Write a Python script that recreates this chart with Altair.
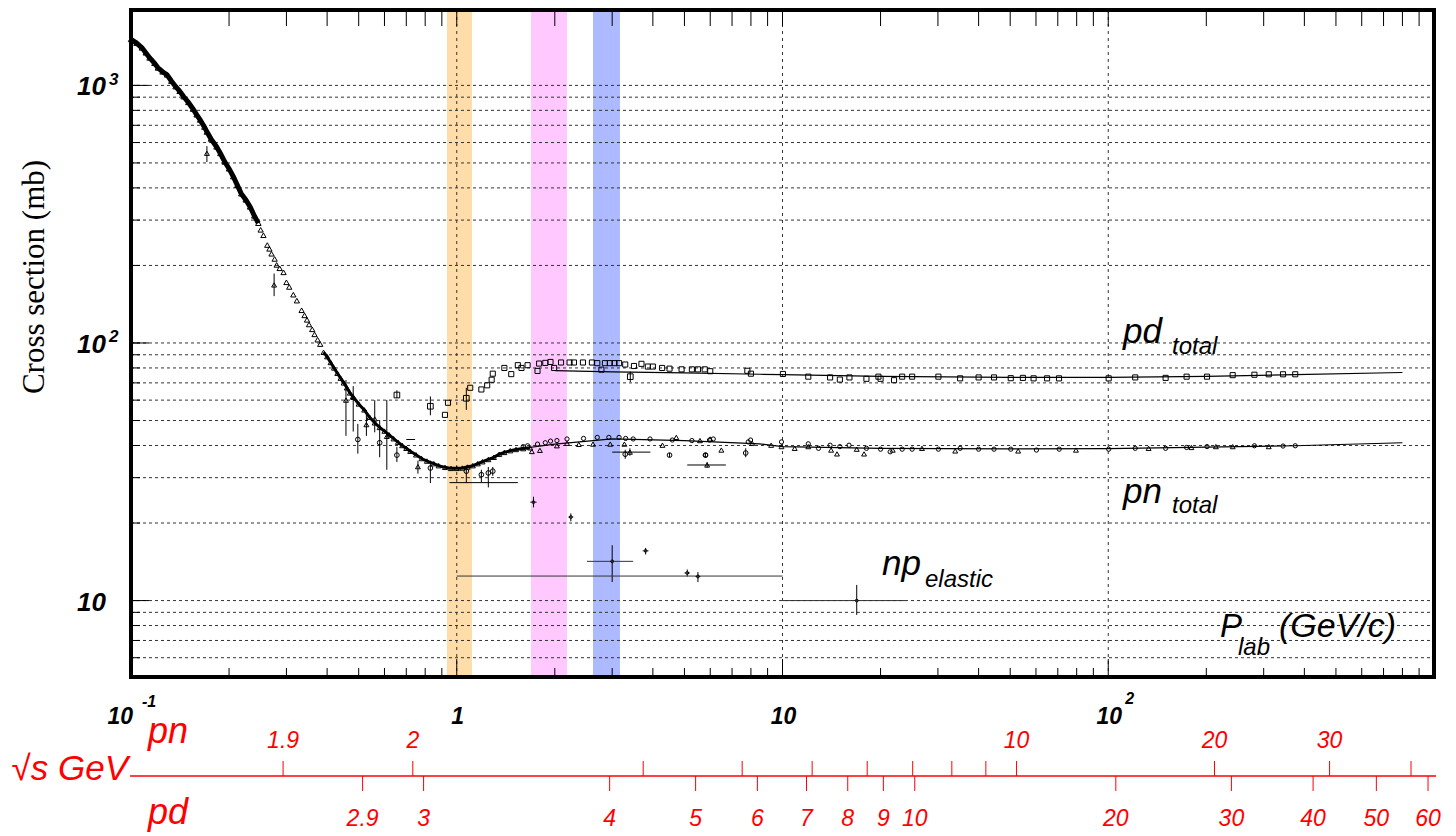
import altair as alt
import pandas as pd

W, H = 1303, 667
SANS = "Liberation Sans"
SERIF = "Liberation Serif"
RED = "#FF0000"

# ---------------- data (P_lab in GeV/c, cross section in mb) ----------------
# pn total: dense low-energy data (0.1 - 0.25 GeV/c)
pnA_p = [0.100, 0.104, 0.108, 0.111, 0.114, 0.118, 0.121, 0.125, 0.129, 0.133, 0.137,
         0.141, 0.145, 0.150, 0.155, 0.159, 0.163, 0.168, 0.171, 0.176, 0.183, 0.188,
         0.194, 0.200, 0.206, 0.212, 0.218, 0.225, 0.232, 0.239, 0.246]
pnA_s = [1510, 1460, 1400, 1340, 1280, 1220, 1170, 1130, 1100, 1040, 990,
         950, 905, 860, 810, 770, 735, 690, 660, 620, 578, 545,
         505, 475, 443, 410, 380, 360, 338, 312, 292]
# pn total: 0.25 - 0.38 GeV/c
pnB_p = [0.250, 0.255, 0.262, 0.266, 0.270, 0.276, 0.280, 0.286, 0.294, 0.300, 0.306,
         0.315, 0.323, 0.334, 0.341, 0.347, 0.352, 0.360, 0.366, 0.374, 0.381]
pnB_s = [275, 262, 240, 232, 222, 212, 201, 195, 188, 172, 165,
         154, 146, 134, 128, 123, 118, 113, 108, 103, 99]
# pn total: dense data 0.39 - 1.7 GeV/c
pnC_p = [0.39, 0.40, 0.41, 0.42, 0.43, 0.44, 0.45, 0.46, 0.47, 0.48, 0.50, 0.52, 0.54,
         0.56, 0.58, 0.60, 0.62, 0.64, 0.66, 0.68, 0.70, 0.72, 0.75, 0.78, 0.81, 0.85,
         0.88, 0.92, 0.96, 1.00, 1.04, 1.08, 1.12, 1.16, 1.20, 1.25, 1.30, 1.35, 1.40,
         1.46, 1.52, 1.60, 1.68]
pnC_s = [92, 88.5, 84, 80, 76.3, 73, 70, 67, 64, 62, 58, 55, 51.5,
         49, 47, 45.5, 44, 42.5, 41.2, 40, 39, 38, 36.8, 35.6, 34.8, 34,
         33.4, 32.9, 32.6, 32.6, 32.7, 33, 33.4, 34, 34.6, 35.3, 36, 37, 37.6,
         38.2, 38.6, 38.9, 39.2]
# pn total: triangles at higher momentum
pnT_p = [1.70, 1.80, 2.03, 2.18, 2.37, 2.62, 2.96, 3.27, 4.28, 4.72, 6.0, 5.58, 6.49,
         8.07, 9.23, 9.93, 10.9, 12.0, 14.1, 14.7, 16.9, 17.8, 21.8, 26.8, 33.9, 52.9,
         79.6, 133, 180, 214, 241, 311]
pnT_s = [37.9, 38.3, 39.9, 40.8, 40.4, 40.5, 40.5, 40.5, 40.1, 43.0, 42.4, 41.8, 38.4,
         40.8, 40.1, 39.6, 39.0, 39.6, 38.4, 37.1, 38.7, 37.1, 38.4, 39.0, 38.1, 38.1,
         38.4, 39.0, 39.3, 39.6, 39.6, 39.6]
# pn total: circles
pnO_p = [1.60, 1.65, 1.77, 1.87, 1.94, 2.03, 2.18, 2.45, 2.70, 2.93, 3.15, 3.30, 3.48,
         3.92, 4.59, 5.27, 6.13, 5.81, 5.97, 7.85, 7.98, 9.93, 12.0, 12.9, 14.0, 15.0,
         16.0, 18.1, 20.0, 21.4, 23.3, 25.0, 30.1, 35.1, 40.0, 44.6, 50.2, 60.2, 70.7,
         100.3, 121, 150, 174, 201, 281, 344, 375]
pnO_s = [39.6, 39.9, 40.5, 41.0, 41.6, 41.8, 42.4, 42.6, 43.0, 43.0, 43.0, 42.6, 42.4,
         42.4, 42.0, 41.8, 42.4, 36.7, 42.0, 41.3, 42.0, 41.3, 40.6, 39.0, 40.1, 39.6,
         40.1, 39.0, 38.7, 37.8, 38.7, 38.7, 38.7, 39.0, 38.7, 38.7, 38.7, 38.4, 38.7,
         38.7, 39.0, 39.0, 39.3, 39.6, 39.9, 39.8, 39.9]
# pn points with vertical error bars
pnE_p = [0.171, 0.275, 0.457, 0.481, 0.528, 0.56, 0.61, 0.76, 3.40, 5.87]
pnE_s = [545, 168, 60.0, 61.5, 48.2, 50.7, 43.4, 33.1, 37.7, 33.6]
pnE_lo = [504, 152, 43.6, 45.3, 43.6, 45.0, 32.2, 31.1, 36.5, 32.8]
pnE_hi = [581, 186, 71.8, 68.0, 55.0, 60.0, 60.1, 34.9, 39.0, 34.5]
pnEO_p = [0.497, 0.58, 0.655, 0.83, 1.07, 1.19, 1.25, 1.29, 3.29, 4.5, 5.8, 7.71]
pnEO_s = [42.2, 41.0, 36.7, 32.7, 31.8, 30.8, 31.3, 31.8, 37.0, 36.7, 36.7, 37.4]
pnEO_lo = [37.2, 36.0, 34.5, 28.6, 28.6, 28.8, 27.5, 30.5, 35.5, 36.0, 36.0, 36.0]
pnEO_hi = [48.5, 50.0, 39.5, 34.9, 33.5, 32.2, 33.0, 33.0, 38.5, 37.4, 37.4, 39.0]
# pn horizontal error bars
pnH_s = [28.7, 37.7, 33.6, 42.2]
pnH_lo = [0.95, 3.0, 5.1, 0.70]
pnH_hi = [1.54, 3.93, 6.7, 0.745]
# pn total fit
pnF_p = [1.5, 2.0, 3.0, 5.0, 8.5, 10, 20, 50, 100, 200, 375, 800]
pnF_s = [38.6, 40.5, 42.4, 41.8, 40.6, 39.6, 39.0, 38.8, 38.9, 39.4, 39.9, 41.0]

# pd total: squares
pd_p = [0.92, 0.94, 1.10, 1.19, 1.24, 1.28, 1.29, 1.40, 1.47, 1.54, 1.58, 1.65, 1.77,
        1.79, 1.87, 1.94, 1.99, 2.09, 2.22, 2.29, 2.44, 2.60, 2.70, 2.78, 2.85, 2.95,
        3.05, 3.15, 3.29, 3.50, 3.69, 3.86, 4.00, 4.27, 4.50, 4.90, 5.27, 5.50, 5.77,
        6.00, 7.80, 8.00, 10.03, 12.0, 14.0, 15.0, 16.05, 18.1, 19.7, 20.0, 22.0, 23.3,
        25.0, 30.1, 35.1, 40.0, 44.6, 50.2, 54.7, 59.0, 64.9, 70.6, 100.3, 121, 150,
        174, 201, 241, 281, 311, 344, 375]
pd_s = [52.6, 58.6, 67.0, 66.0, 68.5, 72.0, 76.0, 80.0, 75.7, 82.0, 80.0, 82.0, 77.9,
        83.2, 83.7, 84.4, 80.0, 84.0, 84.0, 84.0, 84.0, 84.0, 83.5, 78.8, 83.5, 83.5,
        83.5, 83.5, 82.5, 81.4, 83.0, 81.0, 81.0, 80.0, 79.5, 79.0, 79.0, 79.0, 79.0,
        77.7, 78.0, 76.0, 75.8, 74.0, 73.5, 72.1, 73.5, 72.6, 74.0, 72.6, 71.7, 74.0,
        74.0, 74.0, 72.9, 73.5, 73.5, 73.0, 73.2, 72.9, 72.9, 72.9, 72.9, 73.5, 73.2,
        74.0, 74.0, 75.0, 75.3, 75.6, 75.6, 75.6]
pdE_p = [0.655, 0.83, 1.07, 3.41]
pdE_s = [62.8, 56.8, 61.0, 74.0]
pdE_lo = [61.2, 52.4, 55.0, 70.5]
pdE_hi = [65.5, 62.0, 67.0, 77.5]
pdF_p = [2.0, 3.0, 5.0, 8.5, 10, 20, 50, 100, 200, 375, 800]
pdF_s = [78.1, 77.3, 76.5, 75.6, 75.3, 74.2, 73.5, 73.5, 74.2, 75.4, 76.8]

# np elastic
np_p = [1.72, 2.24, 3.0, 3.8, 5.1, 5.5, 16.9]
np_s = [24.1, 21.1, 14.2, 15.6, 12.8, 12.4, 10.0]
np_lo = [23.0, 20.3, 11.8, 15.1, 12.4, 11.8, 8.8]
np_hi = [25.3, 21.8, 16.4, 16.0, 13.2, 12.9, 11.5]
npH_s = [24.1, 21.1, 14.2, 15.6, 12.8, 12.4, 10.0, 12.45]
npH_lo = [1.68, 2.20, 2.51, 3.72, 5.0, 5.4, 10.0, 1.0]
npH_hi = [1.76, 2.28, 3.48, 3.88, 5.2, 5.6, 23.8, 10.0]

# highlighted momentum bands
band_lo = [0.933, 1.69, 2.62]
band_hi = [1.114, 2.18, 3.17]
band_col = ["#FFDDAA", "#FFC8FF", "#ADBAFF"]

# grid / ticks
grid_y = [6, 7, 8, 9, 10, 20, 30, 40, 50, 60, 70, 80, 90, 100, 200, 300, 400, 500,
          600, 700, 800, 900, 1000]
grid_x = [1, 10, 100]
minor_x = [m * d for d in (0.1, 1, 10, 100) for m in range(2, 10)]
major_y = [10, 100, 1000]

# sqrt(s) secondary scale: P_lab positions of sqrt(s) values
pn_tick_p = [0.293, 0.733, 3.735, 7.52, 12.33, 18.2, 25.1, 33.1, 42.1, 52.3, 211.9, 478, 850]
pn_tick_t = ["1.9", "2", "", "", "", "", "", "", "", "10", "20", "30", ""]
pd_tick_p = [0.514, 0.791, 2.947, 5.411, 8.373, 11.85, 15.86, 20.40, 25.47, 105.5,
             238.8, 425.4, 665.3, 958.6]
pd_tick_t = ["2.9", "3", "4", "5", "6", "7", "8", "9", "10", "20", "30", "40", "50", "60"]

# ---------------- chart ----------------
xs = alt.Scale(type="log", domain=[0.1, 1000], nice=False)
ys = alt.Scale(type="log", domain=[5.05, 1962], nice=False)


def X(f="P"):
    return alt.X(f"{f}:Q", scale=xs, axis=None)


def Y(f="S"):
    return alt.Y(f"{f}:Q", scale=ys, axis=None)


def df(**kw):
    return pd.DataFrame(kw)


def pts(P, S, shape, size=24, sw=1.0):
    return alt.Chart(df(P=P, S=S)).mark_point(
        shape=shape, filled=False, size=size, strokeWidth=sw, color="black", opacity=1
    ).encode(x=X(), y=Y())


def vbars(P, lo, hi, sw=1):
    return alt.Chart(df(P=P, lo=lo, hi=hi)).mark_rule(color="black", strokeWidth=sw).encode(
        x=X(), y=Y("lo"), y2="hi")


def hbars(S, lo, hi, sw=1, color="black"):
    return alt.Chart(df(S=S, lo=lo, hi=hi)).mark_rule(color=color, strokeWidth=sw).encode(
        y=Y(), x=X("lo"), x2="hi")


def line(P, S, sw=1.0, color="black"):
    return alt.Chart(df(P=P, S=S)).mark_line(color=color, strokeWidth=sw).encode(x=X(), y=Y())


def label(t, x, y, size, color="black", font=SANS, style="italic", weight="normal",
          align="left", baseline="alphabetic", angle=0):
    return alt.Chart(df(t=[t])).mark_text(
        font=font, fontSize=size, fontStyle=style, fontWeight=weight, color=color,
        align=align, baseline=baseline, angle=angle
    ).encode(x=alt.value(x), y=alt.value(y), text="t:N")


one = df(a=[0])
layers = []

# bands
layers.append(alt.Chart(df(p0=band_lo, p1=band_hi, c=band_col)).mark_rect(opacity=1).encode(
    x=X("p0"), x2="p1", y=alt.value(0), y2=alt.value(H),
    color=alt.Color("c:N", scale=None)))

# grid
layers.append(alt.Chart(df(S=grid_y)).mark_rule(color="#333333", strokeWidth=1, strokeDash=[3, 3]).encode(
    y=Y(), x=alt.value(0), x2=alt.value(W)))
layers.append(alt.Chart(df(P=grid_x)).mark_rule(color="#333333", strokeWidth=1, strokeDash=[3, 4]).encode(
    x=X(), y=alt.value(0), y2=alt.value(H)))

# fits and dense bands
layers.append(line(pnA_p, pnA_s, sw=5))
layers.append(line(pnC_p, pnC_s, sw=3))
layers.append(line(pnF_p, pnF_s, sw=1.2))
layers.append(line(pdF_p, pdF_s, sw=1.2))

# data points
layers.append(pts(pnA_p, pnA_s, "triangle-up", size=30))
layers.append(pts(pnB_p, pnB_s, "triangle-up", size=28))
layers.append(pts(pnC_p, pnC_s, "triangle-up", size=26))
layers.append(pts(pnT_p, pnT_s, "triangle-up"))
layers.append(pts(pnO_p, pnO_s, "circle", size=18))
layers.append(vbars(pnE_p, pnE_lo, pnE_hi))
layers.append(pts(pnE_p, pnE_s, "triangle-up"))
layers.append(vbars(pnEO_p, pnEO_lo, pnEO_hi))
layers.append(pts(pnEO_p, pnEO_s, "circle", size=22))
layers.append(hbars(pnH_s, pnH_lo, pnH_hi))
layers.append(pts(pd_p, pd_s, "square", size=26))
layers.append(vbars(pdE_p, pdE_lo, pdE_hi))
layers.append(pts(pdE_p, pdE_s, "square", size=32))
layers.append(vbars(np_p, np_lo, np_hi))
layers.append(hbars(npH_s, npH_lo, npH_hi, color="#333333"))
layers.append(pts(np_p, np_s, "circle", size=8))

# frame ticks
layers.append(alt.Chart(df(P=minor_x)).mark_rule(color="black", strokeWidth=1).encode(
    x=X(), y=alt.value(0), y2=alt.value(16)))
layers.append(alt.Chart(df(P=minor_x)).mark_rule(color="black", strokeWidth=1).encode(
    x=X(), y=alt.value(H - 9), y2=alt.value(H)))
layers.append(alt.Chart(df(P=grid_x)).mark_rule(color="black", strokeWidth=1).encode(
    x=X(), y=alt.value(H - 18), y2=alt.value(H)))
layers.append(alt.Chart(df(P=grid_x)).mark_rule(color="black", strokeWidth=1).encode(
    x=X(), y=alt.value(0), y2=alt.value(16)))
layers.append(alt.Chart(df(S=grid_y)).mark_rule(color="black", strokeWidth=1).encode(
    y=Y(), x=alt.value(0), x2=alt.value(9)))
layers.append(alt.Chart(df(S=major_y)).mark_rule(color="black", strokeWidth=1).encode(
    y=Y(), x=alt.value(0), x2=alt.value(18)))

# frame
layers.append(alt.Chart(one).mark_rect(fillOpacity=0, stroke="black", strokeWidth=4).encode(
    x=alt.value(0), x2=alt.value(W), y=alt.value(0), y2=alt.value(H)))

# y axis labels
layers.append(alt.Chart(df(S=major_y, t=["10", "10", "10"])).mark_text(
    font=SANS, fontSize=26, fontStyle="italic", fontWeight="bold", align="right",
    baseline="alphabetic", dy=10, color="black").encode(x=alt.value(-25), y=Y(), text="t:N"))
layers.append(alt.Chart(df(S=[1000, 100], t=["3", "2"])).mark_text(
    font=SANS, fontSize=17, fontStyle="italic", fontWeight="bold", align="left",
    baseline="alphabetic", dy=-0.5, color="black").encode(x=alt.value(-22), y=Y(), text="t:N"))
layers.append(label("Cross section (mb)", -96, 267, 31, font=SERIF, style="normal",
                    align="center", baseline="middle", angle=270))

# x axis labels
layers.append(alt.Chart(df(P=[0.1], t=["10"])).mark_text(
    font=SANS, fontSize=23, fontStyle="italic", fontWeight="bold", align="right", dx=2,
    baseline="alphabetic").encode(x=X(), y=alt.value(714), text="t:N"))
layers.append(alt.Chart(df(P=[0.1], t=["-1"])).mark_text(
    font=SANS, fontSize=16, fontStyle="italic", fontWeight="bold", align="left", dx=11,
    baseline="alphabetic").encode(x=X(), y=alt.value(697), text="t:N"))
layers.append(alt.Chart(df(P=[1, 10, 100], t=["1", "10", "10"])).mark_text(
    font=SANS, fontSize=23, fontStyle="italic", fontWeight="bold", align="center", dx=1,
    baseline="alphabetic").encode(x=X(), y=alt.value(714), text="t:N"))
layers.append(alt.Chart(df(P=[100], t=["2"])).mark_text(
    font=SANS, fontSize=16, fontStyle="italic", fontWeight="bold", align="left", dx=17,
    baseline="alphabetic").encode(x=X(), y=alt.value(694), text="t:N"))

# annotations inside the plot
layers.append(label("pd", 992, 333, 35))
layers.append(label("total", 1041, 344, 24))
layers.append(label("pn", 992, 493, 35))
layers.append(label("total", 1041, 503, 24))
layers.append(label("np", 751, 565, 35))
layers.append(label("elastic", 794, 577, 24))
layers.append(label("P", 1089, 627, 33))
layers.append(label("lab", 1107, 645, 24))
layers.append(label("(GeV/c)", 1148, 627, 34))

# sqrt(s) secondary scale
layers.append(alt.Chart(one).mark_rule(color=RED, strokeWidth=1.5).encode(
    x=alt.value(-1), x2=alt.value(W + 2), y=alt.value(766)))
layers.append(alt.Chart(df(P=pn_tick_p)).mark_rule(color=RED, strokeWidth=1).encode(
    x=X(), y=alt.value(751), y2=alt.value(766)))
layers.append(alt.Chart(df(P=pd_tick_p)).mark_rule(color=RED, strokeWidth=1).encode(
    x=X(), y=alt.value(766), y2=alt.value(781)))
layers.append(alt.Chart(df(P=pn_tick_p, t=pn_tick_t)).mark_text(
    font=SANS, fontSize=23, fontStyle="italic", color=RED, align="center",
    baseline="alphabetic").encode(x=X(), y=alt.value(738), text="t:N"))
layers.append(alt.Chart(df(P=pd_tick_p, t=pd_tick_t)).mark_text(
    font=SANS, fontSize=23, fontStyle="italic", color=RED, align="center",
    baseline="alphabetic").encode(x=X(), y=alt.value(816), text="t:N"))
layers.append(label("pn", 17, 733, 36, color=RED))
layers.append(label("\u221as GeV", -3, 770, 35, color=RED, align="right"))
layers.append(label("pd", 17, 814, 36, color=RED))

chart = alt.layer(*layers).properties(
    width=W, height=H,
    padding={"left": 123, "top": 2, "right": 14, "bottom": 155},
    autosize=alt.AutoSizeParams(type="none"),
).configure_view(stroke=None)

chart.save("out.html", embed_options={"renderer": "svg", "actions": False})
